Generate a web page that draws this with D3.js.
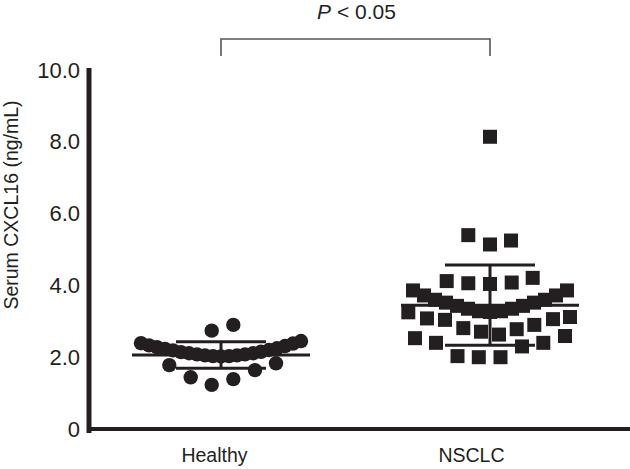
<!DOCTYPE html>
<html>
<head>
<meta charset="utf-8">
<script src="https://cdn.jsdelivr.net/npm/d3@7"></script>
<style>
  body { margin: 0; background: #fff; }
  text { font-family: "Liberation Sans", Arial, sans-serif; fill: #231f20; }
</style>
</head>
<body>
<svg id="chart"></svg>
<script>
// groups and axis ticks
var categories = ["Healthy", "NSCLC"];
var yTicks = [0, 2, 4, 6, 8, 10];

// serum CXCL16 (ng/mL) per subject, with the horizontal slot each dot sits in
var healthyValues = [2.39, 2.33, 2.28, 2.23, 2.19, 2.14, 2.11, 2.08, 2.05, 2.03, 2.02,
    2.03, 2.05, 2.08, 2.11, 2.15, 2.20, 2.25, 2.31, 2.38, 2.45,
    2.74, 2.90, 1.78, 1.44, 1.23, 1.39, 1.64, 1.83];
var healthySlots = [-8.0, -7.2, -6.4, -5.6, -4.8, -4.0, -3.2, -2.4, -1.6, -0.8, 0,
    0.8, 1.6, 2.4, 3.2, 4.0, 4.8, 5.6, 6.4, 7.2, 8.0,
    -0.93, 1.23, -5.17, -3.03, -0.93, 1.23, 3.4, 5.5];

var nsclcValues = [3.86, 3.72, 3.60, 3.52, 3.43, 3.35, 3.28, 3.26, 3.28, 3.35, 3.43, 3.52, 3.60, 3.72, 3.86,
    4.12, 4.06, 4.04, 4.08, 4.21,
    8.14, 5.40, 5.14, 5.25,
    3.25, 3.08, 3.04, 2.81, 2.71, 2.63, 2.78, 2.90, 3.06, 3.12,
    2.53, 2.40, 2.03, 2.00, 2.00, 2.30, 2.40, 2.59];
var nsclcSlots = [-7.7, -6.6, -5.5, -4.4, -3.3, -2.2, -1.1, 0, 1.1, 2.2, 3.3, 4.4, 5.5, 6.6, 7.7,
    -4.33, -2.17, 0, 2.17, 4.27,
    0, -2.17, 0, 2.1,
    -8.17, -6.3, -4.5, -2.67, -0.9, 0.9, 2.67, 4.43, 6.3, 8.0,
    -7.5, -5.4, -3.25, -1.12, 1.05, 3.2, 5.33, 7.5];

// mean and SD bars as drawn
var means = [2.06, 3.45];
var sds = [0.37, 1.12];

var pLabel = "< 0.05";

var dimensions = {
    width: 630,
    height: 469,
    margin: {
        top: 70,
        bottom: 40,
        right: 0,
        left: 89
    }
};

var ink = "#231f20";

var svg = d3.select("#chart")
    .attr("width", dimensions.width)
    .attr("height", dimensions.height);

var yScale = d3.scaleLinear()
    .domain([0, 10])
    .range([429, dimensions.margin.top]);

// group centres
var xScale = d3.scalePoint()
    .domain(categories)
    .range([221, 490]);

// category labels sit a bit left of the group centres
var xLabelScale = d3.scalePoint()
    .domain(categories)
    .range([214, 471]);

// slot -> pixel offset within a group
var slotScale = d3.scaleLinear()
    .domain([-1, 1])
    .range([-10, 10]);

// axis lines
svg.append("line")
    .attr("x1", dimensions.margin.left)
    .attr("x2", dimensions.margin.left)
    .attr("y1", yScale(10) - 2)
    .attr("y2", yScale(0) + 4)
    .attr("stroke", ink)
    .attr("stroke-width", 5);

svg.append("line")
    .attr("x1", dimensions.margin.left)
    .attr("x2", dimensions.width)
    .attr("y1", yScale(0))
    .attr("y2", yScale(0))
    .attr("stroke", ink)
    .attr("stroke-width", 4);

// y tick labels
var yAxis = d3.axisLeft(yScale)
    .tickValues(yTicks)
    .tickSize(0)
    .tickPadding(9)
    .tickFormat(d => d === 0 ? "0" : d3.format(".1f")(d));

var yG = svg.append("g")
    .attr("transform", `translate(${dimensions.margin.left}, 0)`)
    .call(yAxis);
yG.select(".domain").remove();
yG.selectAll("text")
    .style("font-size", "22px")
    .attr("fill", ink);

// x category labels
var xAxis = d3.axisBottom(xLabelScale)
    .tickSize(0)
    .tickPadding(0);

var xG = svg.append("g")
    .attr("transform", "translate(0, 448)")
    .call(xAxis);
xG.select(".domain").remove();
xG.selectAll("text")
    .style("font-size", "19.5px")
    .attr("fill", ink);

// y axis title
svg.append("text")
    .attr("transform", "translate(18, 205) rotate(-90)")
    .attr("text-anchor", "middle")
    .style("font-size", "19.5px")
    .text("Serum CXCL16 (ng/mL)");

// healthy: circles
svg.selectAll(".healthy")
    .data(healthyValues)
    .enter()
    .append("circle")
    .attr("class", "healthy")
    .attr("cx", (d, i) => xScale("Healthy") + slotScale(healthySlots[i]))
    .attr("cy", d => yScale(d))
    .attr("r", 7.2)
    .attr("fill", ink);

// NSCLC: squares
var sq = 14;
svg.selectAll(".nsclc")
    .data(nsclcValues)
    .enter()
    .append("rect")
    .attr("class", "nsclc")
    .attr("x", (d, i) => xScale("NSCLC") + slotScale(nsclcSlots[i]) - sq / 2)
    .attr("y", d => yScale(d) - sq / 2)
    .attr("width", sq)
    .attr("height", sq)
    .attr("fill", ink);

// mean +/- SD bars
var stats = categories.map((c, i) => ({ cat: c, mean: means[i], sd: sds[i] }));
var bars = svg.selectAll(".stat")
    .data(stats)
    .enter()
    .append("g")
    .attr("class", "stat")
    .attr("stroke", ink)
    .attr("stroke-width", 3);

bars.append("line")
    .attr("x1", d => xScale(d.cat) - 89)
    .attr("x2", d => xScale(d.cat) + 89)
    .attr("y1", d => yScale(d.mean))
    .attr("y2", d => yScale(d.mean));

bars.append("line")
    .attr("x1", d => xScale(d.cat))
    .attr("x2", d => xScale(d.cat))
    .attr("y1", d => yScale(d.mean - d.sd))
    .attr("y2", d => yScale(d.mean + d.sd));

bars.append("line")
    .attr("x1", d => xScale(d.cat) - 45)
    .attr("x2", d => xScale(d.cat) + 45)
    .attr("y1", d => yScale(d.mean + d.sd))
    .attr("y2", d => yScale(d.mean + d.sd));

bars.append("line")
    .attr("x1", d => xScale(d.cat) - 45)
    .attr("x2", d => xScale(d.cat) + 45)
    .attr("y1", d => yScale(d.mean - d.sd))
    .attr("y2", d => yScale(d.mean - d.sd));

// significance bracket
var bx1 = xScale(categories[0]);
var bx2 = xScale(categories[1]);
svg.append("path")
    .attr("d", `M${bx1},56 V39 H${bx2} V56`)
    .attr("fill", "none")
    .attr("stroke", "#555")
    .attr("stroke-width", 1.6);

var pText = svg.append("text")
    .attr("x", (bx1 + bx2) / 2 + 1)
    .attr("y", 19)
    .attr("text-anchor", "middle")
    .style("font-size", "21px");
pText.append("tspan")
    .style("font-style", "italic")
    .text("P");
pText.append("tspan")
    .text(" " + pLabel);
</script>
</body>
</html>
